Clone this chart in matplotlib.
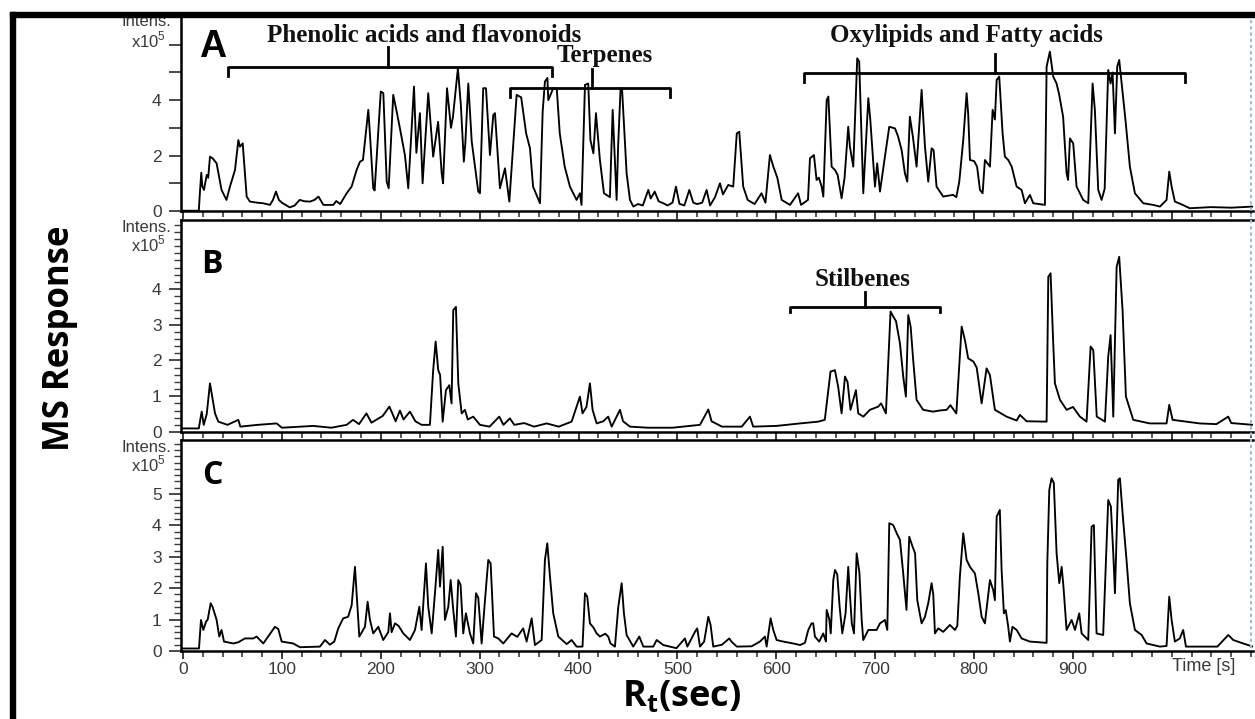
import matplotlib
matplotlib.use("Agg")
import matplotlib.pyplot as plt
from matplotlib.lines import Line2D
from matplotlib.patches import Rectangle
from matplotlib.ticker import FixedLocator, MultipleLocator

# ---- chromatogram A (time in s, intensity in x10^5) ----
t_a = [-2, 16, 17, 18.5, 19.5, 21.2, 24, 25.5, 27.3, 30, 34, 39, 44, 47.5, 52.6, 56, 57.6, 60.4, 62.7, 64.4,
       67.7, 75, 81, 88, 91, 94, 97, 100, 108, 113, 118, 123, 128.5, 133, 137, 142, 152, 155, 159, 165.5,
       170.5, 175.6, 179, 182, 187.4, 189, 192.4, 193.8, 200, 202.6, 206, 208, 212.6, 216, 219.4, 224.5,
       227.8, 233.6, 236, 239.6, 242.3, 248, 253, 258, 261.6, 263, 267, 271, 273, 278, 281, 284, 285.5,
       288.5, 292, 298.6, 300.3, 303.6, 306.4, 310.4, 313.8, 315.5, 320.5, 325.6, 330, 337.4, 342, 347,
       350.9, 354, 361, 363.7, 366, 368.5, 369.4, 374.4, 378, 381, 386, 391.3, 398, 401.4, 403, 406.5,
       409.8, 412, 415, 417.6, 421.6, 425.7, 431.7, 434.5, 438.5, 440, 442.5, 444, 448.6, 452, 455.4, 460,
       465, 470.5, 473, 477, 481, 485.7, 490, 495, 498.5, 502, 507, 512, 516, 520, 525, 529.5, 533, 538,
       543, 546, 551.4, 556.4, 560, 562.5, 566.5, 571, 578, 585, 589, 593.5, 597, 601, 605.4, 613.8, 622,
       625, 632, 634, 638, 640.7, 643, 645.8, 647.5, 650.9, 652.6, 655.9, 659.3, 662, 666, 669, 672.7,
       674.4, 677.8, 681.8, 683.8, 687.9, 693, 695, 699.7, 702, 704.8, 709.8, 714.2, 720, 723, 726.7, 730,
       732.4, 735, 738, 741.8, 746.9, 750.3, 753.6, 757, 759, 762, 768.7, 773, 778.8, 782, 785, 789, 792.4,
       794, 795.8, 800, 803, 805.9, 808.6, 810.9, 816, 818.7, 821, 822.8, 825.4, 828.8, 831.1, 834.5, 838,
       843, 848, 851.4, 856.4, 859.8, 871.6, 873.3, 876.6, 880, 883.4, 886, 890, 893.5, 895, 896.9, 900.2,
       903.6, 910.3, 915.4, 919.8, 922.1, 925.5, 928.9, 932, 935.6, 938, 940, 942.4, 944.7, 946.7, 949.2,
       953, 957.5, 962.6, 971, 981, 987.9, 994.6, 997.3, 999.7, 1003, 1011, 1018, 1040, 1060, 1082]
i_a = [0.01, 0.01, 0.6, 1.38, 0.9, 0.76, 1.3, 1.2, 1.96, 1.9, 1.72, 0.76, 0.4, 0.88, 1.48, 2.56, 2.32, 2.44, 1.36, 0.52,
       0.34, 0.3, 0.28, 0.22, 0.4, 0.7, 0.4, 0.3, 0.13, 0.2, 0.4, 0.35, 0.34, 0.4, 0.52, 0.22, 0.22, 0.36, 0.25, 0.64,
       0.88, 1.48, 1.78, 1.84, 3.65, 2.8, 0.82, 0.74, 4.31, 4.25, 1.06, 0.82, 4.19, 3.6, 2.98, 2.0,
       0.82, 4.49, 2.1, 3.53, 1.0, 4.25, 1.96, 3.22, 1.36, 1.0, 4.43, 3.0, 3.4, 5.15, 3.82, 1.78, 2.44,
       4.6, 2.5, 0.7, 0.64, 4.43, 4.43, 2.02, 3.47, 3.53, 0.82, 1.54, 0.34, 4.19, 4.1, 2.8,
       2.26, 0.88, 0.28, 3.58, 4.67, 4.8, 4.0, 4.43, 4.4, 2.8, 1.6, 0.88, 0.4, 0.64, 0.22, 4.55,
       4.6, 2.56, 2.08, 3.53, 1.84, 0.64, 0.5, 3.65, 0.4, 2.32, 4.43, 4.4, 1.36, 0.4, 0.16, 0.25,
       0.2, 0.76, 0.45, 0.7, 0.35, 0.28, 0.2, 0.3, 0.88, 0.26, 0.2, 0.76, 0.3, 0.25, 0.3, 0.76, 0.2, 0.5,
       1.0, 0.6, 0.94, 0.88, 2.8, 2.86, 0.88, 0.4, 0.25, 0.64, 0.3, 2.02, 1.6, 1.2, 0.4, 0.22, 0.64,
       0.22, 0.4, 1.9, 2.02, 1.12, 1.2, 0.88, 0.52, 4.0, 4.13, 1.6, 1.48, 1.3, 0.46, 1.2, 3.04,
       2.32, 1.6, 5.51, 5.39, 0.64, 4.07, 3.3, 0.88, 1.72, 0.7, 1.96, 3.04, 2.98, 2.7, 2.2, 1.36,
       1.06, 3.4, 2.7, 1.6, 4.37, 2.32, 1.06, 2.26, 2.2, 0.88, 0.52, 0.55, 0.58, 0.5, 1.06, 2.56, 4.25,
       3.5, 1.84, 1.8, 1.6, 0.76, 0.64, 1.84, 1.6, 3.65, 3.3, 4.73, 4.85, 2.8, 1.96, 1.84, 1.6,
       0.88, 0.76, 0.28, 0.58, 0.28, 0.22, 5.21, 5.75, 4.85, 4.6, 4.2, 3.4, 1.36, 1.12, 2.62, 2.44,
       0.88, 0.4, 0.28, 4.6, 3.65, 0.76, 0.4, 0.8, 5.09, 4.6, 5.0, 2.8, 5.21, 5.45, 4.6,
       3.3, 1.6, 0.64, 0.28, 0.22, 0.16, 0.4, 1.42, 0.88, 0.34, 0.22, 0.1, 0.14, 0.12, 0.16]

# ---- chromatogram B ----
t_b = [-2, 16, 18.9, 21, 24, 27.3, 29.5, 32.4, 35.7, 45, 56, 58, 75.5, 94.7, 100, 131.8, 150, 165.5, 172, 178,
       185.5, 190.6, 196, 202, 208.7, 212, 215, 219.4, 223, 229.5, 235, 241.3, 249.7, 253, 255.5, 258.1, 260,
       262.6, 265.9, 269.3, 271.6, 273.3, 276, 278.4, 281.8, 285.1, 288, 293.5, 300.3, 310, 319.8, 324,
       330.6, 335, 345, 355, 367.7, 380, 393, 401.4, 404, 408, 411.5, 414.2, 418.3, 425, 430, 433.5, 441.9,
       445, 452, 470, 495, 522.8, 531.2, 534.5, 545, 565, 573.3, 576.6, 600, 624, 642.4, 649, 654.8, 659.2,
       662.5, 666, 669.4, 672, 675, 680.5, 682.8, 688, 694.6, 703, 706, 710.8, 715.5, 718.2, 721, 725,
       728.3, 731, 733.4, 735.8, 738.4, 741.8, 748.5, 758.3, 765, 772.2, 776, 782, 787.4, 790.7, 794, 799.3,
       802.6, 807.6, 812.6, 816, 821, 832.8, 843, 846.3, 853, 873.3, 875, 877.3, 880, 881.7, 886.8, 893.5,
       900, 907, 913.7, 917.8, 920.5, 924, 932.3, 935.6, 938, 940.7, 944.1, 946.7, 950.1, 953.5, 960.9,
       977.6, 994.6, 997.3, 1000.7, 1028, 1045, 1057, 1060, 1082]
i_b = [0.1, 0.1, 0.57, 0.2, 0.5, 1.36, 1.0, 0.52, 0.29, 0.2, 0.34, 0.15, 0.2, 0.24, 0.12, 0.17, 0.12, 0.2, 0.34, 0.22,
       0.52, 0.26, 0.35, 0.45, 0.71, 0.5, 0.3, 0.6, 0.35, 0.57, 0.3, 0.2, 0.2, 1.73, 2.53, 1.73, 1.6,
       0.29, 1.17, 1.31, 0.8, 3.41, 3.5, 1.36, 0.52, 0.62, 0.35, 0.43, 0.2, 0.15, 0.43, 0.2,
       0.38, 0.2, 0.25, 0.15, 0.24, 0.15, 0.29, 0.99, 0.52, 0.7, 1.36, 0.62, 0.24, 0.3, 0.43, 0.15, 0.62,
       0.3, 0.15, 0.12, 0.12, 0.2, 0.63, 0.3, 0.15, 0.15, 0.43, 0.15, 0.17, 0.24, 0.29, 0.34, 1.69, 1.73,
       1.27, 0.52, 1.55, 1.4, 0.62, 1.17, 0.52, 0.43, 0.62, 0.71, 0.8, 0.52, 3.37, 3.23, 3.1, 2.48,
       1.55, 0.99, 3.27, 2.95, 2.01, 0.9, 0.62, 0.57, 0.6, 0.62, 0.75, 0.52, 2.95, 2.57, 2.06, 1.97,
       1.8, 0.8, 1.78, 1.59, 0.62, 0.43, 0.32, 0.48, 0.3, 0.29, 4.34, 4.44, 2.48, 1.36, 0.9, 0.62,
       0.7, 0.43, 0.29, 2.39, 2.29, 0.43, 0.29, 2.11, 2.71, 0.43, 4.62, 4.9, 3.41, 0.99, 0.34,
       0.24, 0.24, 0.76, 0.34, 0.24, 0.22, 0.43, 0.25, 0.2]

# ---- chromatogram C ----
t_c = [-2, 16.2, 18.2, 20.6, 23.3, 25, 28, 30, 34, 36.7, 39, 41.5, 50.9, 56, 62.7, 71, 74.5, 81.2, 93, 96.4,
       99.8, 111.5, 118.3, 138.5, 143.6, 148.6, 153, 157, 162, 167, 170.6, 173.9, 175.6, 178.3, 184, 186.7,
       189, 192.4, 197.5, 202.5, 207.6, 209.3, 211, 214.4, 218, 222.8, 229.5, 234.6, 239, 241.3, 245.7, 248,
       251.5, 254.8, 258.1, 259.9, 262.6, 264.9, 268.3, 270.7, 273.3, 276, 278.4, 280.7, 283.4, 286.1,
       290.2, 293.5, 296.3, 298.6, 302, 305.4, 308.7, 311.1, 314.5, 318.8, 323.9, 332.3, 338, 344, 347.5,
       352.6, 355.9, 362.7, 366, 368.4, 371.1, 374.4, 379.5, 388, 393, 398, 404, 406.5, 408.8, 411.5, 415,
       418.3, 421.6, 427, 430, 432.3, 436.8, 440.2, 443.6, 445.9, 448.6, 455.3, 461.4, 465.5, 475.6, 479,
       485.7, 499, 507.6, 510, 517.7, 520, 522.8, 527, 531.2, 533.5, 536.2, 545, 552.4, 554.6, 560, 575,
       583.4, 588.5, 590.2, 594.2, 596.9, 600.3, 607, 617.1, 624, 628.9, 632.3, 635.6, 637.3, 639, 643.4,
       647.4, 650.2, 650.9, 653.6, 655, 657.6, 659.3, 661.6, 664, 666.7, 670, 672.7, 674, 676.3, 678.5,
       681.2, 684, 686.3, 687.9, 693, 701.4, 704.8, 709.8, 712.2, 714.2, 718.2, 722, 725, 728.3, 731.6,
       734.4, 737.8, 740.3, 742.5, 746.9, 750.3, 753.6, 757, 758.7, 760.4, 763.7, 768.8, 775.5, 780.6, 783,
       785.6, 789, 792.4, 795.8, 800.8, 804.2, 807.6, 810.9, 816, 819.3, 821, 822.8, 826, 827.8, 830.1,
       832, 834.5, 836.2, 838.8, 843, 848, 856.4, 873.3, 874, 876, 878.3, 880.6, 883.4, 886.1, 888.5,
       890.2, 893.5, 898.6, 902, 906.3, 908.7, 915.4, 918.8, 921.1, 923.8, 930.5, 935.6, 938.3, 940.7,
       942.4, 945.7, 947.4, 950.7, 954.1, 957.5, 962.6, 969.4, 974.4, 987.9, 994.6, 997.3, 999.7, 1003,
       1008, 1011.4, 1014.2, 1046, 1057, 1062, 1072, 1082]
i_c = [0.08, 0.08, 0.99, 0.67, 0.93, 1.0, 1.52, 1.4, 0.99, 0.46, 0.67, 0.3, 0.24, 0.28, 0.4, 0.4, 0.46, 0.24, 0.77, 0.7,
       0.3, 0.24, 0.12, 0.14, 0.35, 0.2, 0.3, 0.72, 1.04, 1.09, 1.46, 2.68, 1.84, 0.46, 0.77, 1.57,
       1.0, 0.56, 0.77, 0.35, 0.6, 1.2, 0.6, 0.88, 0.8, 0.56, 0.35, 0.67, 1.41, 0.67, 2.79, 1.41,
       0.56, 1.84, 3.22, 2.05, 3.32, 0.99, 1.41, 2.26, 1.31, 0.46, 2.26, 2.1, 0.56, 1.2,
       0.56, 0.24, 1.84, 1.7, 0.24, 1.62, 2.9, 2.79, 0.46, 0.4, 0.24, 0.56, 0.45, 0.72, 0.3,
       1.04, 0.19, 0.35, 2.9, 3.43, 2.37, 1.2, 0.46, 0.22, 0.35, 0.14, 0.14, 1.84, 1.73, 0.88, 0.75,
       0.56, 0.46, 0.55, 0.46, 0.24, 0.14, 1.41, 2.16, 1.2, 0.51, 0.14, 0.46, 0.14, 0.14, 0.35,
       0.19, 0.09, 0.4, 0.14, 0.61, 0.72, 0.14, 0.3, 1.09, 0.83, 0.14, 0.2, 0.4, 0.3, 0.14, 0.15,
       0.3, 0.46, 0.14, 1.04, 0.67, 0.35, 0.3, 0.24, 0.19, 0.26, 0.67, 0.88, 0.88, 0.46, 0.3,
       0.56, 0.3, 1.31, 1.0, 0.56, 2.26, 2.58, 2.44, 1.41, 0.56, 1.2, 2.68, 2.0, 0.88, 0.56,
       3.11, 2.5, 0.99, 0.35, 0.67, 0.67, 0.88, 0.99, 0.67, 4.07, 4.01, 3.73, 3.54, 2.47, 1.31,
       3.64, 3.32, 3.11, 1.62, 0.88, 1.09, 1.52, 2.16, 1.8, 0.56, 0.72, 0.61, 0.83, 0.67, 0.8,
       2.37, 3.75, 2.9, 2.68, 2.47, 1.84, 1.09, 0.88, 2.26, 1.94, 1.62, 4.28, 4.49, 2.58, 1.2,
       1.3, 0.77, 0.3, 0.77, 0.67, 0.4, 0.3, 0.26, 2.79, 5.13, 5.5, 5.35, 3.11, 2.16, 2.68,
       2.1, 0.67, 0.99, 0.67, 1.2, 0.56, 0.35, 3.96, 4.01, 0.56, 0.51, 4.81, 4.6, 3.11,
       1.84, 5.45, 5.5, 4.17, 2.9, 1.52, 0.67, 0.51, 0.24, 0.14, 0.16, 1.73, 0.99, 0.3,
       0.4, 0.67, 0.14, 0.14, 0.51, 0.35, 0.24, 0.14]

panel_names = ["A", "B", "C"]
y_max = [7.0, 5.93, 6.72]
y_labels = [[0, 2, 4], [0, 1, 2, 3, 4], [0, 1, 2, 3, 4, 5]]
x_labels = [0, 100, 200, 300, 400, 500, 600, 700, 800, 900]

# class annotations: (panel, text, start, end, centre, bar level, text x, text level)
groups = [
    (0, "Phenolic acids and flavonoids", 45.5, 373, 207, 5.2, 243.7, 6.10),
    (0, "Terpenes", 330.6, 492, 413.5, 4.44, 426.7, 5.39),
    (0, "Oxylipids and Fatty acids", 628, 1013, 821, 4.98, 792.7, 6.10),
    (1, "Stilbenes", 613.7, 765.4, 689.6, 3.50, 687.6, 4.08),
]

W, H = 1255, 719
plt.rcParams["font.family"] = "Liberation Sans"
plt.rcParams["mathtext.fontset"] = "custom"
plt.rcParams["mathtext.rm"] = "Liberation Sans"
plt.rcParams["mathtext.bf"] = "Open Sans:bold"

fig = plt.figure(figsize=(W / 100, H / 100), dpi=100)


def box(left, top, right, bottom):
    return [left / W, 1 - bottom / H, (right - left) / W, (bottom - top) / H]


boxes = [box(181, 17, 1253, 211), box(181, 220, 1253, 432), box(181, 440, 1253, 651)]
traces = [(t_a, i_a), (t_b, i_b), (t_c, i_c)]
grey = "#3a3a3a"

axes = []
for k in range(3):
    ax = fig.add_axes(boxes[k])
    t, v = traces[k]
    ax.plot(t, v, color="black", lw=1.35)
    ax.set_xlim(-2, 1082)
    ax.set_ylim(0, y_max[k])
    ax.spines["right"].set_visible(False)
    ax.spines["top"].set_visible(k > 0)
    for s in ["left", "bottom", "top"]:
        ax.spines[s].set_linewidth(1.8)
    ax.xaxis.set_major_locator(MultipleLocator(100))
    ax.xaxis.set_minor_locator(MultipleLocator(20))
    ax.tick_params(axis="x", which="major", length=6, width=1.4, colors=grey)
    ax.tick_params(axis="x", which="minor", length=4, width=1.2, colors=grey)
    ax.tick_params(axis="y", which="major", length=9, width=1.3, colors=grey,
                   labelsize=12.5, pad=5)
    ax.yaxis.set_major_locator(FixedLocator(y_labels[k]))
    if k == 0:
        ax.yaxis.set_minor_locator(FixedLocator([1, 3, 5, 6]))
        ax.tick_params(axis="y", which="minor", length=9, width=1.3, colors=grey)
    else:
        ax.yaxis.set_minor_locator(MultipleLocator(0.2))
        ax.tick_params(axis="y", which="minor", length=5, width=1.0, colors=grey)
    if k < 2:
        ax.tick_params(axis="x", labelbottom=False)
    else:
        ax.set_xticks(x_labels)
        ax.tick_params(axis="x", labelsize=12.5, pad=2)
        ax.text(1000, -0.5, "Time [s]", ha="left", va="center", fontsize=13, color=grey,
                clip_on=False)
    axes.append(ax)

# brackets and class names
for k, name, x0, x1, xc, yb, xt, yt in groups:
    ax = axes[k]
    drop = 0.33 if k == 0 else 0.14
    rise = 0.7 if k == 0 else 0.42
    ax.plot([x0, x0, x1, x1], [yb - drop, yb, yb, yb - drop], color="black", lw=2.0,
            clip_on=False, solid_joinstyle="round")
    ax.plot([xc, xc], [yb, yb + rise], color="black", lw=2.0, clip_on=False)
    ax.text(xt, yt, name, ha="center", va="baseline", fontsize=18, fontweight="bold",
            family="Liberation Serif", color="#111111")

# "Intens. x10^5" labels
for top_px, d1, d2 in [(17, 4, 23), (220, 7, 24), (440, 7, 24)]:
    fig.text(171 / W, 1 - (top_px + d1) / H, "Intens.", ha="right", va="center", fontsize=12,
             color=grey)
    fig.text(166 / W, 1 - (top_px + d2) / H, r"x10$^5$", ha="right", va="center", fontsize=12,
             color=grey)

# panel letters
fig.text(213 / W, 1 - 47 / H, "A", ha="center", va="center", fontsize=27, fontweight="bold",
         family="Liberation Sans")
fig.text(212 / W, 1 - 264 / H, "B", ha="center", va="center", fontsize=23, fontweight="bold",
         family="Open Sans")
fig.text(212 / W, 1 - 475 / H, "C", ha="center", va="center", fontsize=23, fontweight="bold",
         family="Open Sans")

# big axis titles
fig.text(60 / W, 1 - 338 / H, "MS Response", rotation=90, ha="center", va="center",
         fontsize=25, fontweight="bold", family="Open Sans")
fig.text(682 / W, 1 - 697 / H, r"R$_\mathbf{t}$(sec)", ha="center", va="center",
         fontsize=26, fontweight="bold", family="Open Sans")

# black frame on top and left, dotted guide on the right
fig.add_artist(Rectangle((10 / W, 1 - 17 / H), (W - 10) / W, 5 / H, transform=fig.transFigure,
                         color="black", zorder=5))
fig.add_artist(Rectangle((10 / W, 0), 5 / W, (H - 12) / H, transform=fig.transFigure,
                         color="black", zorder=5))
fig.add_artist(Line2D([1251 / W, 1251 / W], [1 - 20 / H, 1 - 651 / H], transform=fig.transFigure,
                      color="#8fc1d6", lw=1.5, ls=(0, (1.5, 1.5))))

fig.savefig("out.png", dpi=100)
